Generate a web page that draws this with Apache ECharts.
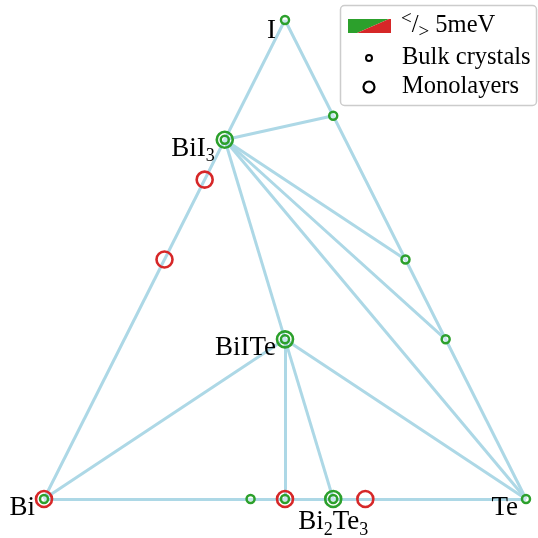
<!DOCTYPE html>
<html>
<head>
<meta charset="utf-8">
<script src="https://cdn.jsdelivr.net/npm/echarts@6/dist/echarts.min.js"></script>
<style>
  html, body { margin: 0; padding: 0; background: #fff; }
  #chart { width: 538px; height: 538px; }
</style>
</head>
<body>
<div id="chart"></div>
<script>
// phases as atom counts [Bi, I, Te]
const phaseNames = ["Bi", "I", "Te", "BiI3", "BiI2", "BiI", "TeI4", "TeI", "Te2I", "BiTeI", "Bi4Te3", "BiTe", "Bi2Te3", "BiTe2"];
const phaseBi = [1, 0, 0, 1, 1, 1, 0, 0, 0, 1, 4, 1, 2, 1];
const phaseI  = [0, 1, 0, 3, 2, 1, 4, 1, 1, 1, 0, 0, 0, 0];
const phaseTe = [0, 0, 1, 0, 0, 0, 1, 1, 2, 1, 3, 1, 3, 2];

const tieLines = [
    ["Bi", "I"], ["I", "Te"], ["Bi", "Te"],
    ["BiI3", "TeI4"], ["BiI3", "TeI"], ["BiI3", "Te2I"], ["BiI3", "Te"], ["BiI3", "BiTeI"],
    ["BiTeI", "Bi"], ["BiTeI", "BiTe"], ["BiTeI", "Bi2Te3"], ["BiTeI", "Te"]
];

const bulkPhases = ["I", "Te", "Bi", "BiI3", "TeI4", "TeI", "Te2I", "BiTeI", "Bi4Te3", "BiTe", "Bi2Te3"];
const monoPhases = ["Bi", "BiI2", "BiI", "BiI3", "BiTeI", "BiTe", "Bi2Te3", "BiTe2"];
const monoSmallGap = [false, false, false, true, true, false, true, false]; // true: < 5meV

const labelPhases = ["I", "BiI3", "BiTeI", "Bi", "Bi2Te3", "Te"];
const labelTexts = ["I", "BiI{sub|3}", "BiITe", "Bi", "Bi{sub|2}Te{sub|3}", "Te"];

const GREEN = "#2ca02c";
const RED = "#d62728";
const FONT = "Liberation Serif";

// ternary composition -> x,y in the unit triangle
function toXY(name) {
    const k = phaseNames.indexOf(name);
    const sum = phaseBi[k] + phaseI[k] + phaseTe[k];
    const i = phaseI[k] / sum;
    const te = phaseTe[k] / sum;
    return [te + i / 2, i];
}

const labelPos = {
    I: { offset: [-9, 11], align: "right" },
    BiI3: { offset: [-10, 9], align: "right" },
    BiTeI: { offset: [-9, 9], align: "right" },
    Bi: { offset: [-9, 9], align: "right" },
    Bi2Te3: { offset: [0, 23], align: "center" },
    Te: { offset: [-8, 9], align: "right" }
};

const chart = echarts.init(document.getElementById("chart"));

const option = {
    animation: false,
    grid: { left: 44, top: 20, width: 482, height: 479 },
    xAxis: { type: "value", min: 0, max: 1, show: false },
    yAxis: { type: "value", min: 0, max: 1, show: false },
    series: [
        {
            type: "lines",
            coordinateSystem: "cartesian2d",
            clip: false,
            z: 1,
            lineStyle: { color: "#add8e6", width: 3, opacity: 1 },
            data: tieLines.map((p) => ({ coords: [toXY(p[0]), toXY(p[1])] }))
        },
        {
            type: "scatter",
            clip: false,
            z: 3,
            symbol: "circle",
            symbolSize: 16,
            data: monoPhases.map((n, idx) => ({
                value: toXY(n),
                itemStyle: {
                    color: "rgba(0,0,0,0)",
                    borderColor: monoSmallGap[idx] ? GREEN : RED,
                    borderWidth: 2.6,
                    opacity: 1
                }
            }))
        },
        {
            type: "scatter",
            clip: false,
            z: 4,
            symbol: "circle",
            symbolSize: 8,
            itemStyle: { color: "rgba(255,255,255,0.35)", borderColor: GREEN, borderWidth: 2.5, opacity: 1 },
            data: bulkPhases.map((n) => toXY(n))
        },
        {
            type: "scatter",
            clip: false,
            z: 5,
            symbolSize: 0,
            silent: true,
            itemStyle: { opacity: 1 },
            data: labelPhases.map((n, idx) => ({
                value: toXY(n),
                label: {
                    show: true,
                    position: "inside",
                    formatter: labelTexts[idx],
                    offset: labelPos[n].offset,
                    align: labelPos[n].align,
                    verticalAlign: "middle",
                    color: "#000",
                    fontFamily: FONT,
                    fontSize: 27,
                    lineHeight: 34,
                    rich: {
                        sub: { fontFamily: FONT, fontSize: 18, verticalAlign: "bottom", lineHeight: 18, color: "#000" }
                    }
                }
            }))
        }
    ],
    graphic: [
        {
            type: "rect",
            z: 10,
            shape: { x: 340.5, y: 5.5, width: 196, height: 100, r: 4 },
            style: { fill: "rgba(255,255,255,0.8)", stroke: "#cccccc", lineWidth: 1.5 }
        },
        {
            type: "polygon",
            z: 11,
            shape: { points: [[348, 19], [389, 19], [357, 33], [348, 33]] },
            style: { fill: GREEN }
        },
        {
            type: "polygon",
            z: 11,
            shape: { points: [[389, 19], [391, 19], [391, 33], [357, 33]] },
            style: { fill: RED }
        },
        {
            type: "text",
            z: 11,
            x: 401,
            y: 26,
            style: {
                text: "{sup|<}/{sub|>} 5meV",
                fontFamily: FONT,
                fontSize: 24.5,
                lineHeight: 32,
                verticalAlign: "middle",
                fill: "#000",
                rich: {
                    sup: { fontFamily: FONT, fontSize: 19, verticalAlign: "top", lineHeight: 18 },
                    sub: { fontFamily: FONT, fontSize: 19, verticalAlign: "bottom", lineHeight: 18 }
                }
            }
        },
        {
            type: "circle",
            z: 11,
            shape: { cx: 369, cy: 58, r: 3 },
            style: { fill: "#fff", stroke: "#000", lineWidth: 2 }
        },
        {
            type: "text",
            z: 11,
            x: 402,
            y: 58,
            style: { text: "Bulk crystals", fontFamily: FONT, fontSize: 24.5, verticalAlign: "middle", fill: "#000" }
        },
        {
            type: "circle",
            z: 11,
            shape: { cx: 369, cy: 87, r: 5.5 },
            style: { fill: "#fff", stroke: "#000", lineWidth: 2.2 }
        },
        {
            type: "text",
            z: 11,
            x: 402,
            y: 87,
            style: { text: "Monolayers", fontFamily: FONT, fontSize: 24.5, verticalAlign: "middle", fill: "#000" }
        }
    ]
};

chart.setOption(option);
</script>
</body>
</html>
